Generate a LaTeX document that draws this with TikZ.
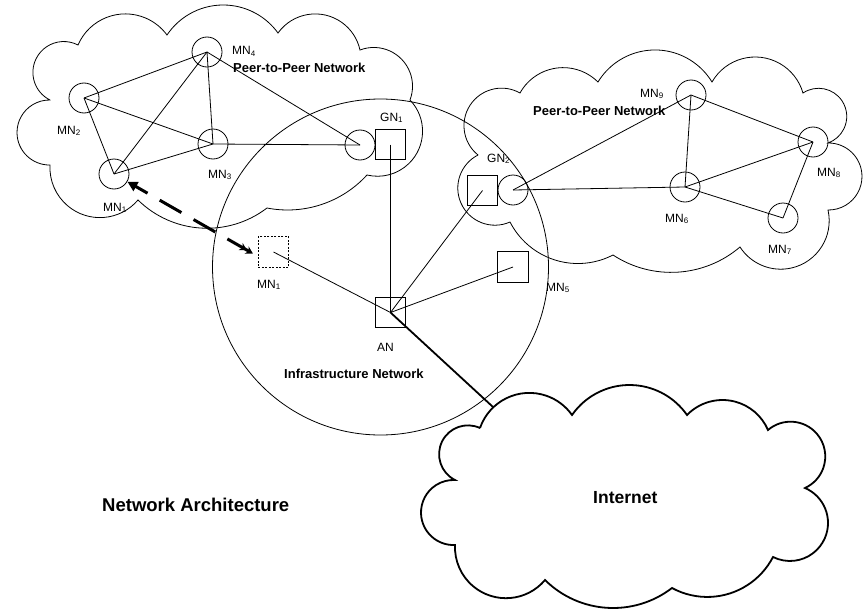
\documentclass[tikz,border=0pt]{standalone}
\usepackage{fontspec}
\setmainfont{Liberation Sans}
\usetikzlibrary{calc,arrows.meta}
\newcommand\cloudstart{\gdef\cloudpath{}}
\newcommand\cloudlobe[6]{%
  \edef\lpx{\fpeval{(#3)-(#1)}}%
  \edef\lpy{\fpeval{(#4)-(#2)}}%
  \edef\lbx{\fpeval{(#5)-(#1)}}%
  \edef\lby{\fpeval{(#6)-(#2)}}%
  \edef\lD{\fpeval{2*((\lpx)*(\lby)-(\lpy)*(\lbx))}}%
  \edef\lcx{\fpeval{((\lby)*((\lpx)^2+(\lpy)^2)-(\lpy)*((\lbx)^2+(\lby)^2))/(\lD)}}%
  \edef\lcy{\fpeval{((\lpx)*((\lbx)^2+(\lby)^2)-(\lbx)*((\lpx)^2+(\lpy)^2))/(\lD)}}%
  \edef\lr{\fpeval{round(sqrt((\lcx)^2+(\lcy)^2),4)}}%
  \edef\lta{\fpeval{atand(-(\lcy),-(\lcx))}}%
  \edef\ltp{\fpeval{atand((\lpy)-(\lcy),(\lpx)-(\lcx))}}%
  \edef\ltb{\fpeval{atand((\lby)-(\lcy),(\lbx)-(\lcx))}}%
  \edef\ldone{\fpeval{(\ltp)-(\lta)-360*floor(((\ltp)-(\lta))/360)}}%
  \edef\ldtwo{\fpeval{(\ltb)-(\lta)-360*floor(((\ltb)-(\lta))/360)}}%
  \edef\lsw{\fpeval{round((\ldone)<(\ldtwo) ? (\ldtwo) : (\ldtwo)-360,4)}}%
  \edef\lta{\fpeval{round(\lta,4)}}%
  \xdef\cloudpath{\cloudpath arc[start angle=\lta,delta angle=\lsw,radius=\lr]}%
}
\begin{document}
\begin{tikzpicture}[x=1pt,y=-1pt,
  edge/.style={line width=0.8pt},
  peer/.style={circle,draw,line width=0.8pt,minimum size=30pt,inner sep=0pt},
  box/.style={rectangle,draw,line width=0.8pt,minimum size=30.5pt,inner sep=0pt},
  lbl/.style={anchor=base west,inner sep=0pt,font=\fontsize{12}{14}\selectfont},
  ttl/.style={anchor=base west,inner sep=0pt,font=\bfseries\fontsize{13}{15}\selectfont},
  cloudline/.style={line width=0.8pt,line join=miter}
]
\useasboundingbox (0,0) rectangle (866,610);

% left cloud
\cloudstart
\cloudlobe{50}{100}{33}{70}{78}{45}
\cloudlobe{78}{45}{122}{14}{167}{35}
\cloudlobe{167}{35}{222}{5}{278}{33}
\cloudlobe{278}{33}{318}{14}{360}{50}
\cloudlobe{360}{50}{408}{68}{410}{100}
\cloudlobe{410}{100}{421}{143}{367}{175}
\cloudlobe{367}{175}{320}{205}{267}{208}
\cloudlobe{267}{208}{200}{228}{138}{200}
\cloudlobe{138}{200}{84}{215}{50}{165}
\cloudlobe{50}{165}{17}{132}{50}{100}
\draw[cloudline] (50,100) \cloudpath -- cycle;

% right cloud
\cloudstart
\cloudlobe{478}{155}{465}{117}{520}{93}
\cloudlobe{520}{93}{557}{68}{598}{82}
\cloudlobe{598}{82}{653}{50}{712}{82}
\cloudlobe{712}{82}{755}{57}{803}{93}
\cloudlobe{803}{93}{846}{110}{828}{143}
\cloudlobe{828}{143}{862}{177}{828}{210}
\cloudlobe{828}{210}{815}{255}{740}{247}
\cloudlobe{740}{247}{680}{272}{613}{255}
\cloudlobe{613}{255}{552}{259}{510}{222}
\cloudlobe{510}{222}{458}{192}{478}{155}
\draw[cloudline] (478,155) \cloudpath -- cycle;

% internet cloud
\cloudstart
\cloudlobe{480}{428}{526}{393}{572}{415}
\cloudlobe{572}{415}{630}{385}{687}{415}
\cloudlobe{687}{415}{722}{400}{768}{430}
\cloudlobe{768}{430}{825}{452}{805}{488}
\cloudlobe{805}{488}{828}{522}{773}{557}
\cloudlobe{773}{557}{728}{594}{672}{588}
\cloudlobe{672}{588}{612}{608}{545}{580}
\cloudlobe{545}{580}{495}{597}{455}{545}
\cloudlobe{455}{545}{421}{513}{455}{480}
\cloudlobe{455}{480}{440}{447}{480}{428}
\draw[cloudline,line width=1.8pt] (480,428) \cloudpath -- cycle;

% infrastructure circle
\node[circle,draw,line width=0.8pt,minimum size=336pt,inner sep=0pt] (infra) at (380.5,267) {};

% nodes left
\node[peer] (mn4) at (207,52) {};
\node[peer] (mn2) at (84,98) {};
\node[peer] (mn3) at (213,144) {};
\node[peer] (mn1) at (114,174) {};
\node[peer] (gn1c) at (360,145) {};
\node[box] (gn1s) at (390.5,144.5) {};
% nodes right
\node[peer] (mn9) at (691,95) {};
\node[peer] (mn8) at (813,142) {};
\node[peer] (mn6) at (685,187) {};
\node[peer] (mn7) at (783,218) {};
\node[peer] (gn2c) at (513,190) {};
\node[box] (gn2s) at (482.5,190.5) {};
% infrastructure nodes
\node[box] (mn5s) at (513,267) {};
\node[box] (ans) at (390.5,312.5) {};
\node[box,dashed,dash pattern=on 2pt off 1.5pt] (mn1s) at (273.5,252) {};
\coordinate (inet) at (493,407);

% edges left
\draw[edge] (mn4.center) -- (mn2.center);
\draw[edge] (mn4.center) -- (mn3.center);
\draw[edge] (mn4.center) -- (mn1.center);
\draw[edge] (mn4.center) -- (gn1c.center);
\draw[edge] (mn2.center) -- (mn3.center);
\draw[edge] (mn2.center) -- (mn1.center);
\draw[edge] (mn1.center) -- (mn3.center);
\draw[edge] (mn3.center) -- (gn1c.center);
% edges right
\draw[edge] (gn2c.center) -- (mn9.center);
\draw[edge] (gn2c.center) -- (mn6.center);
\draw[edge] (mn9.center) -- (mn6.center);
\draw[edge] (mn9.center) -- (mn8.center);
\draw[edge] (mn6.center) -- (mn8.center);
\draw[edge] (mn6.center) -- (mn7.center);
\draw[edge] (mn7.center) -- (mn8.center);
% infrastructure edges
\draw[edge] (gn1s.center) -- (ans.center);
\draw[edge] (gn2s.center) -- (ans.center);
\draw[edge] (mn5s.center) -- (ans.center);
\draw[edge] (mn1s.center) -- (ans.center);
\draw[line width=1.8pt] (ans.center) -- (inet);

% movement arrow
\draw[line width=3pt,dash pattern=on 25pt off 14pt,
  {Stealth[length=7pt,width=8pt]Stealth[length=7pt,width=8pt]}-{Triangle[length=10pt,width=10pt]}]
  ([xshift=-5pt,yshift=-1.5pt]mn1s.west) -- (mn1);

% labels
\node[lbl] (lmn4) at (232,55) {MN\textsubscript{4}};
\node[lbl] (lmn2) at (57,134) {MN\textsubscript{2}};
\node[lbl] (lmn3) at (208,178) {MN\textsubscript{3}};
\node[lbl] (lmn1) at (103,211) {MN\textsubscript{1}};
\node[lbl] (lgn1) at (380,121) {GN\textsubscript{1}};
\node[lbl] (lgn2) at (487,162) {GN\textsubscript{2}};
\node[lbl] (lmn1b) at (257,288) {MN\textsubscript{1}};
\node[lbl] (lan) at (377,351) {AN};
\node[lbl] (lmn5) at (546,291) {MN\textsubscript{5}};
\node[lbl] (lmn9) at (640,97) {MN\textsubscript{9}};
\node[lbl] (lmn8) at (817,176) {MN\textsubscript{8}};
\node[lbl] (lmn6) at (665,222) {MN\textsubscript{6}};
\node[lbl] (lmn7) at (768,253) {MN\textsubscript{7}};

\node[ttl] (p2pl) at (233,72.5) {Peer-to-Peer Network};
\node[ttl] (p2pr) at (533,115) {Peer-to-Peer Network};
\node[ttl] (infl) at (284,378) {Infrastructure Network};
\node[ttl,font=\bfseries\fontsize{17.5}{20}\selectfont] (inetl) at (593,503) {Internet};
\node[ttl,font=\bfseries\fontsize{18.5}{22}\selectfont] (arch) at (102,511) {Network Architecture};
\end{tikzpicture}
\end{document}
